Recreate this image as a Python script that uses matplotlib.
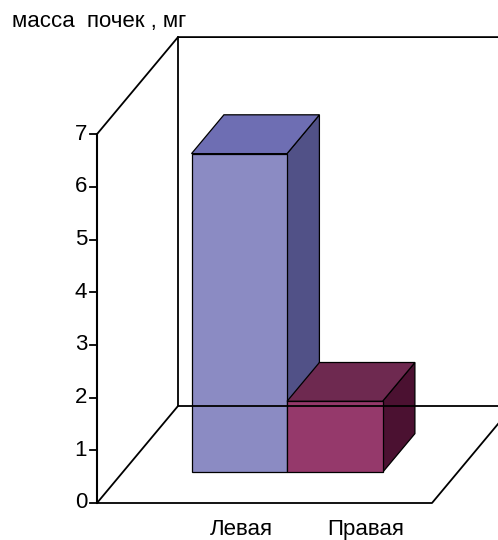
import matplotlib
matplotlib.use("Agg")
import matplotlib.pyplot as plt
from matplotlib.patches import Polygon

plt.rcParams['font.family'] = ['Liberation Sans', 'DejaVu Sans']

# kidney mass, mg
categories = ['Левая', 'Правая']
values = [6.05, 1.35]
y_ticks = [0, 1, 2, 3, 4, 5, 6, 7]
y_title = 'масса  почек , мг'

front_cols = ['#8b8bc3', '#95396b']
top_cols = ['#6e6eb3', '#6e2950']
side_cols = ['#515187', '#4b1131']

# oblique projection, everything in pixels
X0, Y0 = 97, 503          # front-left corner of the floor
UNIT = 52.7               # px per value unit
DX, DY = 81, -97          # full depth vector
FLOOR_W = 335
YMAX = 7
BAR_W = 95.5
D_FRONT, D_BACK = 0.315, 0.715
LABEL_X = [241.5, 365.5]
FS = 16


def proj(u, v, d):
    return (X0 + u + d * DX, Y0 - v * UNIT + d * DY)


fig = plt.figure(figsize=(4.98, 5.40), dpi=100)
ax = fig.add_axes([0, 0, 1, 1])
ax.set_xlim(0, 498)
ax.set_ylim(540, 0)
ax.axis('off')

lw = 1.3
# walls and floor
wall = [proj(0, YMAX, 0), proj(0, YMAX, 1), proj(FLOOR_W, YMAX, 1)]
ax.plot(*zip(*wall), color='black', lw=lw)
ax.plot(*zip(proj(0, YMAX, 1), proj(0, 0, 1), proj(FLOOR_W, 0, 1)), color='black', lw=lw)
floor = [proj(0, 0, 1), proj(0, 0, 0), proj(FLOOR_W, 0, 0), proj(FLOOR_W, 0, 1)]
ax.plot(*zip(*floor), color='black', lw=lw)
ax.plot(*zip(proj(0, 0, 0), proj(0, YMAX, 0)), color='black', lw=1.5)

# value axis ticks and labels
for t in y_ticks:
    x, y = proj(0, t, 0)
    ax.plot([x - 7, x], [y, y], color='black', lw=lw)
    ax.text(x - 10, y, str(t), ha='right', va='center', fontsize=FS)

# bars, left to right
start = FLOOR_W / 2 - BAR_W * len(values) / 2 - 3
for i, v in enumerate(values):
    u0 = start + i * BAR_W
    u1 = u0 + BAR_W
    front = [proj(u0, 0, D_FRONT), proj(u1, 0, D_FRONT), proj(u1, v, D_FRONT), proj(u0, v, D_FRONT)]
    top = [proj(u0, v, D_FRONT), proj(u1, v, D_FRONT), proj(u1, v, D_BACK), proj(u0, v, D_BACK)]
    side = [proj(u1, 0, D_FRONT), proj(u1, 0, D_BACK), proj(u1, v, D_BACK), proj(u1, v, D_FRONT)]
    for pts, c in [(side, side_cols[i]), (top, top_cols[i]), (front, front_cols[i])]:
        ax.add_patch(Polygon(pts, closed=True, facecolor=c, edgecolor='black', lw=0.9))

for lab, x in zip(categories, LABEL_X):
    ax.text(x, 535, lab, ha='center', va='baseline', fontsize=FS)

ax.text(12, 21, y_title, ha='left', va='center', fontsize=FS)

fig.savefig('out.png', dpi=100)
